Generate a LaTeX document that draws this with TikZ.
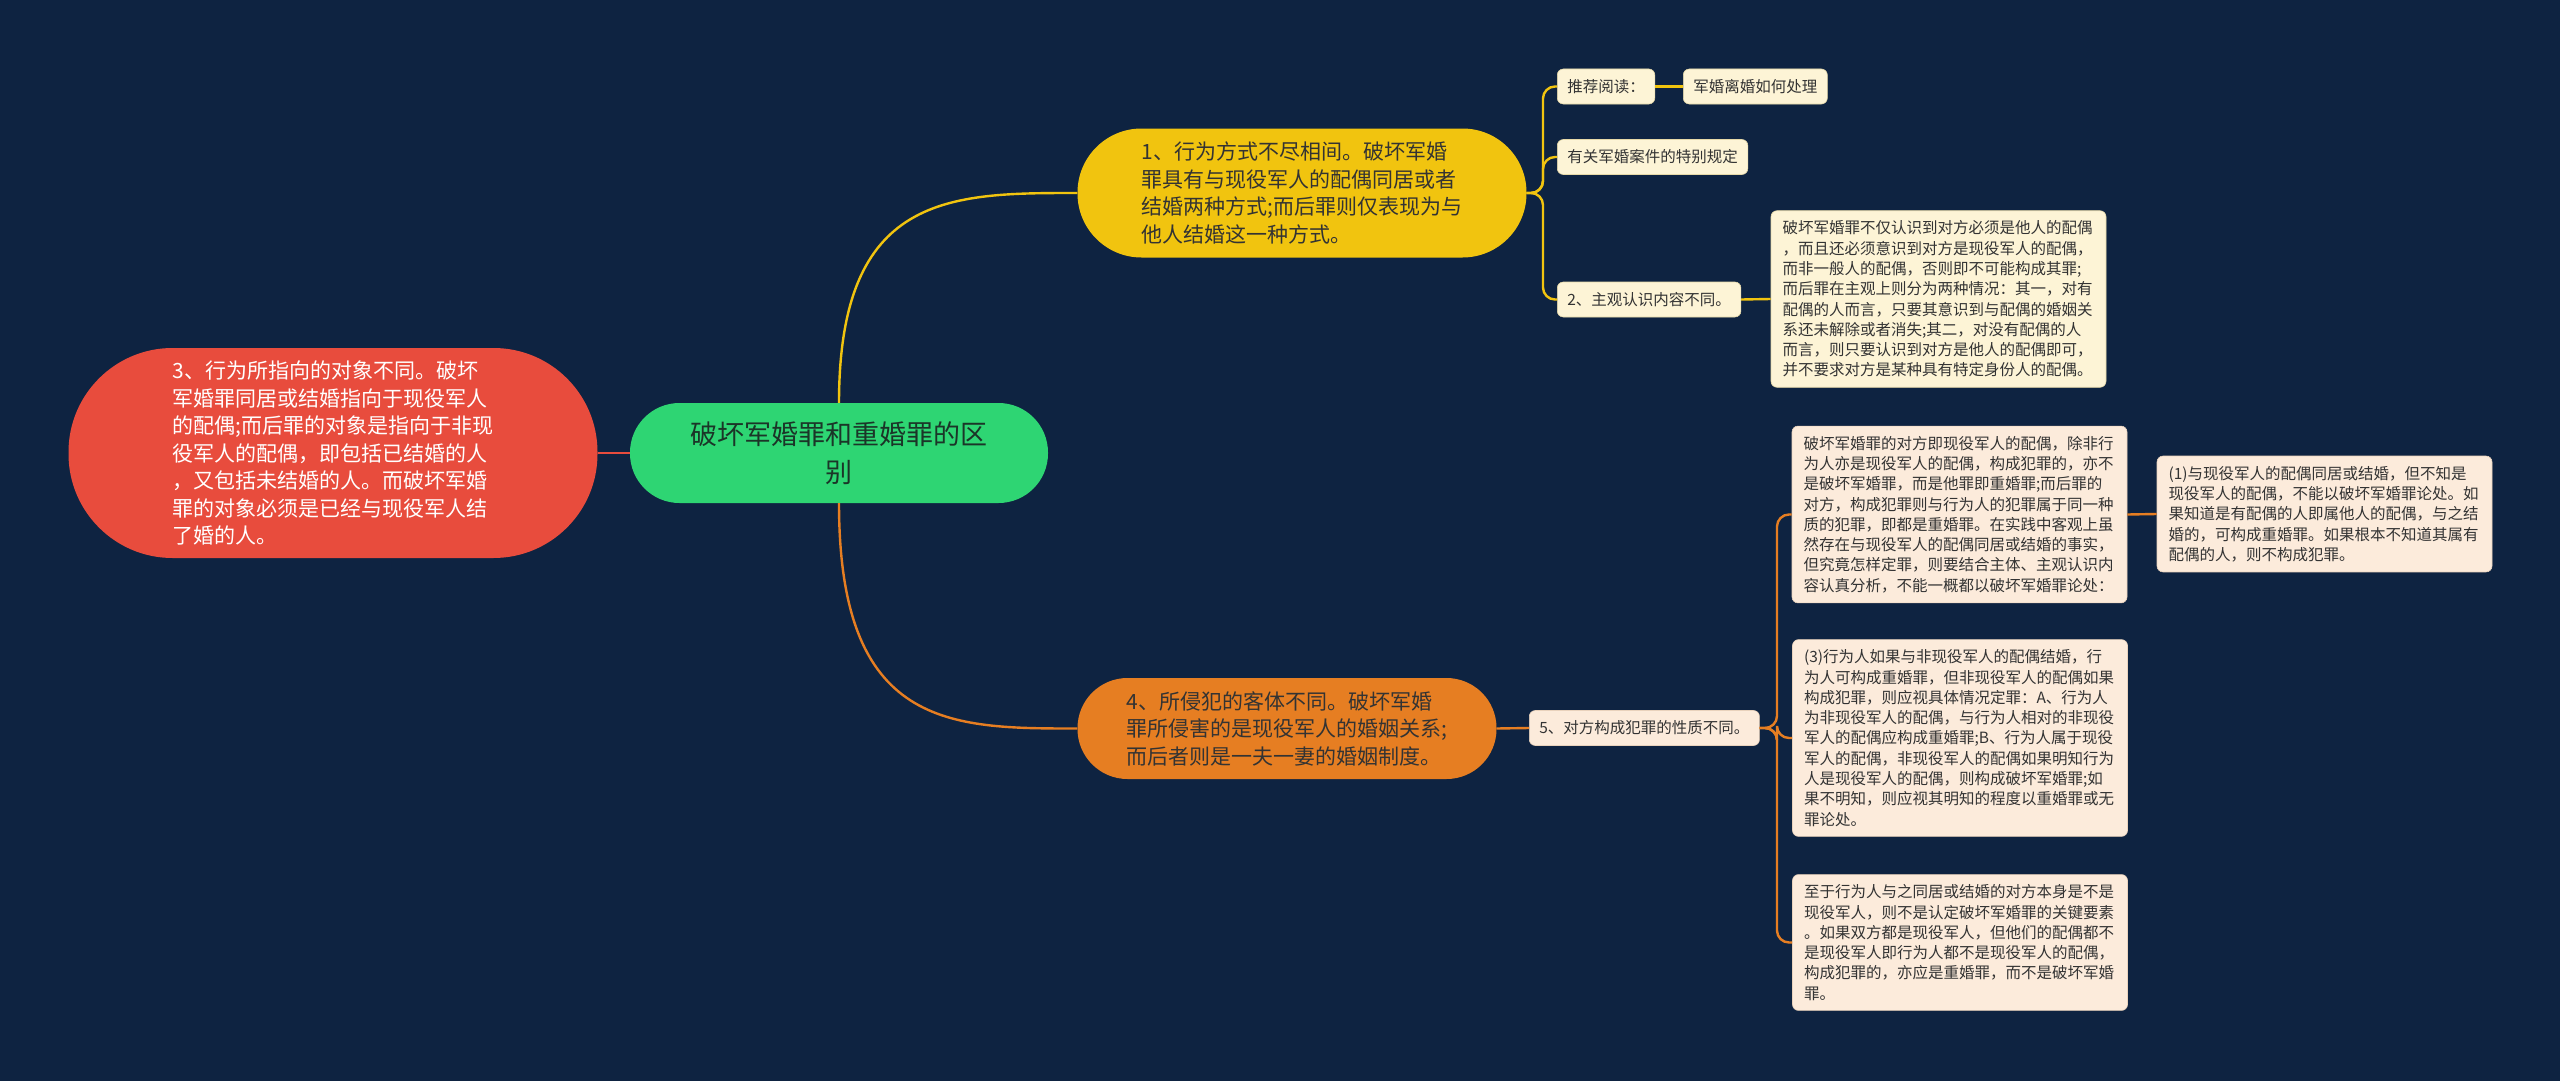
\documentclass[tikz,border=0pt]{standalone}
\usepackage{fontspec}
\setmainfont{Noto Sans CJK SC}
\definecolor{bgc}{HTML}{0E2341}
\definecolor{greenc}{HTML}{2ED573}
\definecolor{yellowc}{HTML}{F1C40F}
\definecolor{redc}{HTML}{E84C3D}
\definecolor{orangec}{HTML}{E67E22}
\definecolor{creamy}{HTML}{FDF4D6}
\definecolor{creamo}{HTML}{FCEBDB}
\definecolor{edgey}{HTML}{E6D9A8}
\definecolor{edgeo}{HTML}{E9D2BC}
\definecolor{textd}{HTML}{333333}
\definecolor{roottext}{HTML}{1B3528}
\begin{document}
\begin{tikzpicture}[x=1pt,y=-1pt,
  rootbox/.style={fill=greenc, text=roottext, minimum width=418pt, minimum height=100pt,
    rounded corners=49.5pt, align=center, font=\fontsize{27}{38}\selectfont, inner sep=0pt},
  mainbox/.style={align=left, font=\fontsize{21}{27.5}\selectfont, inner sep=0pt, text=textd},
  smally/.style={draw=edgey, line width=0.6pt, fill=creamy, text=textd, rounded corners=6pt,
    font=\fontsize{15.5}{20.3}\selectfont, inner xsep=10pt, inner ysep=0pt, minimum height=35pt},
  smallo/.style={smally, draw=edgeo, fill=creamo},
  bigy/.style={draw=edgey, line width=0.6pt, fill=creamy, text=textd, rounded corners=6pt,
    font=\fontsize{15.5}{20.3}\selectfont, align=left, text width=312pt, inner xsep=11.5pt, inner ysep=10pt},
  bigo/.style={bigy, draw=edgeo, fill=creamo},
  yl/.style={draw=yellowc, line width=2.4pt},
  ol/.style={draw=orangec, line width=2.4pt},
  rl/.style={draw=redc, line width=2.2pt}
]
\useasboundingbox (0,0) rectangle (2560,1081);
\fill[bgc] (0,0) rectangle (2560,1081);

% main nodes
\node[rootbox] (root) at (839,453) {破坏军婚罪和重婚罪的区\\别};
\node[mainbox, fill=yellowc, minimum width=449pt, minimum height=129pt, rounded corners=64pt] (n1) at (1302,193)
  {1、行为方式不尽相间。破坏军婚\\罪具有与现役军人的配偶同居或者\\结婚两种方式;而后罪则仅表现为与\\他人结婚这一种方式。};
\node[mainbox, fill=redc, text=white, minimum width=529pt, minimum height=210pt, rounded corners=104pt] (n3) at (333,453)
  {3、行为所指向的对象不同。破坏\\军婚罪同居或结婚指向于现役军人\\的配偶;而后罪的对象是指向于非现\\役军人的配偶，即包括已结婚的人\\，又包括未结婚的人。而破坏军婚\\罪的对象必须是已经与现役军人结\\了婚的人。};
\node[mainbox, fill=orangec, minimum width=419pt, minimum height=101pt, rounded corners=50pt] (n4) at (1287,728.5)
  {4、所侵犯的客体不同。破坏军婚\\罪所侵害的是现役军人的婚姻关系;\\而后者则是一夫一妻的婚姻制度。};

% yellow branch
\node[smally, anchor=west] (c1) at (1557,86.5) {推荐阅读：};
\node[smally, anchor=west] (c1a) at (1683,86.5) {军婚离婚如何处理};
\node[smally, anchor=west] (c2) at (1557,157) {有关军婚案件的特别规定};
\node[smally, anchor=west] (c3) at (1557,299.5) {2、主观认识内容不同。};
\node[bigy] (c3a) at (1938.5,299)
  {破坏军婚罪不仅认识到对方必须是他人的配偶\\，而且还必须意识到对方是现役军人的配偶，\\而非一般人的配偶，否则即不可能构成其罪;\\而后罪在主观上则分为两种情况：其一，对有\\配偶的人而言，只要其意识到与配偶的婚姻关\\系还未解除或者消失;其二，对没有配偶的人\\而言，则只要认识到对方是他人的配偶即可，\\并不要求对方是某种具有特定身份人的配偶。};

% orange branch
\node[smallo, anchor=west] (n5) at (1529,728) {5、对方构成犯罪的性质不同。};
\node[bigo] (A) at (1959.5,514.5)
  {破坏军婚罪的对方即现役军人的配偶，除非行\\为人亦是现役军人的配偶，构成犯罪的，亦不\\是破坏军婚罪，而是他罪即重婚罪;而后罪的\\对方，构成犯罪则与行为人的犯罪属于同一种\\质的犯罪，即都是重婚罪。在实践中客观上虽\\然存在与现役军人的配偶同居或结婚的事实，\\但究竟怎样定罪，则要结合主体、主观认识内\\容认真分析，不能一概都以破坏军婚罪论处：};
\node[bigo] (A1) at (2324.5,514)
  {(1)与现役军人的配偶同居或结婚，但不知是\\现役军人的配偶，不能以破坏军婚罪论处。如\\果知道是有配偶的人即属他人的配偶，与之结\\婚的，可构成重婚罪。如果根本不知道其属有\\配偶的人，则不构成犯罪。};
\node[bigo] (B) at (1960,738)
  {(3)行为人如果与非现役军人的配偶结婚，行\\为人可构成重婚罪，但非现役军人的配偶如果\\构成犯罪，则应视具体情况定罪：A、行为人\\为非现役军人的配偶，与行为人相对的非现役\\军人的配偶应构成重婚罪;B、行为人属于现役\\军人的配偶，非现役军人的配偶如果明知行为\\人是现役军人的配偶，则构成破坏军婚罪;如\\果不明知，则应视其明知的程度以重婚罪或无\\罪论处。};
\node[bigo] (C) at (1960,942.5)
  {至于行为人与之同居或结婚的对方本身是不是\\现役军人，则不是认定破坏军婚罪的关键要素\\。如果双方都是现役军人，但他们的配偶都不\\是现役军人即行为人都不是现役军人的配偶，\\构成犯罪的，亦应是重婚罪，而不是破坏军婚\\罪。};

% connectors
\draw[yl] (root.north) .. controls (839,193) and (950,193) .. (n1.west);
\draw[ol] (root.south) .. controls (839,728.5) and (950,728.5) .. (n4.west);
\draw[rl] (root.west) -- (n3.east);

\draw[yl, rounded corners=12pt] (n1.east) -- (1543,193) |- (c1.west);
\draw[yl, rounded corners=12pt] (n1.east) -- (1543,193) |- (c2.west);
\draw[yl, rounded corners=12pt] (n1.east) -- (1543,193) |- (c3.west);
\draw[yl] (c1.east) -- (c1a.west);
\draw[yl] (c3.east) -- (c3a.west);

\draw[ol] (n4.east) -- (n5.west);
\draw[ol, rounded corners=12pt] (n5.east) -- (1777,728) |- (A.west);
\draw[ol, rounded corners=12pt] (n5.east) -- (1777,728) |- (B.west);
\draw[ol, rounded corners=12pt] (n5.east) -- (1777,728) |- (C.west);
\draw[ol] (A.east) -- (A1.west);
\end{tikzpicture}
\end{document}
